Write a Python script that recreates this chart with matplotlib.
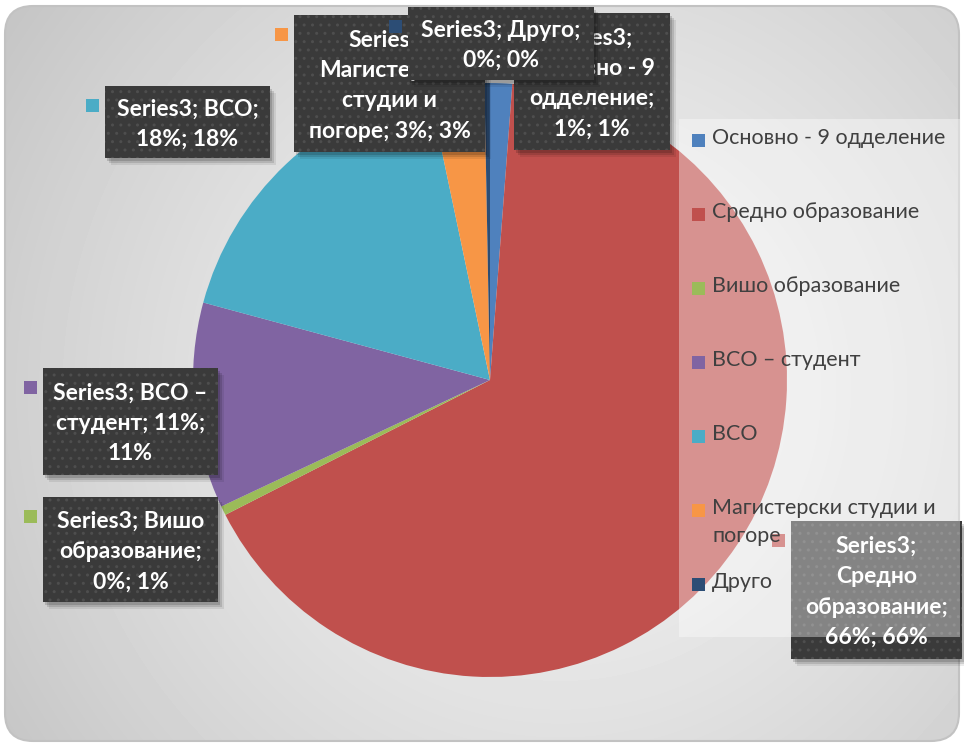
import textwrap
import numpy as np
import matplotlib.pyplot as plt
from matplotlib.patches import Rectangle, FancyBboxPatch

# data (Series3, share in %)
categories = ['Основно - 9 одделение', 'Средно образование', 'Вишо образование',
              'ВСО – студент', 'ВСО', 'Магистерски студии и погоре', 'Друго']
shares = [1.2, 66.3, 0.5, 11.2, 17.5, 3.0, 0.3]
value_text = ['1%', '66%', '0%', '11%', '18%', '3%', '0%']
percent_text = ['1%', '66%', '1%', '11%', '18%', '3%', '0%']
series_name = 'Series3'
colors = ['#4F81BD', '#C0504D', '#9BBB59', '#8064A2', '#4BACC6', '#F79646', '#2C4D75']

# label boxes as placed in the original (x0, y0, x1, y1 in pixels), wrap width, layer
label_boxes = [(514, 13, 670, 150), (791, 521, 962, 659), (43, 497, 218, 602),
               (43, 368, 218, 475), (105, 86, 270, 158), (294, 15, 485, 152),
               (408, 7, 594, 80)]
wrap_width = [11, 12, 13, 14, 13, 14, 15]
label_z = [2, 3, 3, 3, 3, 3, 4]

W, H = 964, 744
fonts = ['Lato', 'DejaVu Sans']

fig = plt.figure(figsize=(W / 100, H / 100), dpi=100)
fig.patch.set_facecolor('white')
ax = fig.add_axes([0, 0, 1, 1])

# rounded panel with soft grey gradient
panel = FancyBboxPatch((5, 6), 954, 735, boxstyle='round,pad=0,rounding_size=28',
                       facecolor='none', edgecolor='#c2c2c2', lw=1.5, zorder=0.5)
ax.add_patch(panel)
yy, xx = np.mgrid[0:H, 0:W]
d = np.hypot(xx - 560, yy - 390) / 700
grad = 0.95 - 0.19 * d ** 1.4
im = ax.imshow(grad, cmap='gray', vmin=0, vmax=1, extent=(0, W, H, 0), zorder=0)
im.set_clip_path(panel)

# pie, clockwise from 12 o'clock (y axis points down)
wedges, _ = ax.pie(shares, colors=colors, startangle=-90, counterclock=True,
                   center=(490, 380), radius=297, wedgeprops=dict(linewidth=0),
                   frame=True)

# data labels
for i, cat in enumerate(categories):
    x0, y0, x1, y1 = label_boxes[i]
    z = label_z[i]
    w, h = x1 - x0, y1 - y0
    for k, a in [(6, 0.08), (4, 0.12), (2, 0.15)]:
        ax.add_patch(Rectangle((x0 + k, y0 + k + 1), w, h, facecolor='black',
                               alpha=a, lw=0, zorder=z))
    ax.add_patch(Rectangle((x0, y0), w, h, facecolor='#3a3a3a', lw=0, zorder=z))
    ax.add_patch(Rectangle((x0, y0), w, h, facecolor='none', edgecolor='#4e4e4e',
                           lw=0, hatch='..', zorder=z))
    ky = y0 + 20
    ax.add_patch(Rectangle((x0 - 19, ky - 7), 13, 13, facecolor=colors[i], lw=0, zorder=z))
    txt = textwrap.fill(f'{series_name}; {cat}; {value_text[i]}; {percent_text[i]}',
                        wrap_width[i])
    ax.text((x0 + x1) / 2, (y0 + y1) / 2 + 2, txt, ha='center', va='center',
            color='white', fontsize=16.5, fontweight='bold', family=fonts,
            linespacing=1.55, zorder=z + 0.1)

# legend area (semi-transparent, lies over the pie)
ax.add_patch(Rectangle((679, 119), 281, 518, facecolor='white', alpha=0.38, lw=0, zorder=5))
for i, cat in enumerate(categories):
    y = 141 + 74 * i
    ax.add_patch(Rectangle((692, y - 7), 13, 13, facecolor=colors[i], lw=0, zorder=6))
    ax.text(712, y - 13, textwrap.fill(cat, 21), ha='left', va='top', color='#404040',
            fontsize=15.5, family=fonts, linespacing=1.5, zorder=6)

ax.set_xlim(0, W)
ax.set_ylim(H, 0)
ax.axis('off')

fig.savefig('out.png', dpi=100)
